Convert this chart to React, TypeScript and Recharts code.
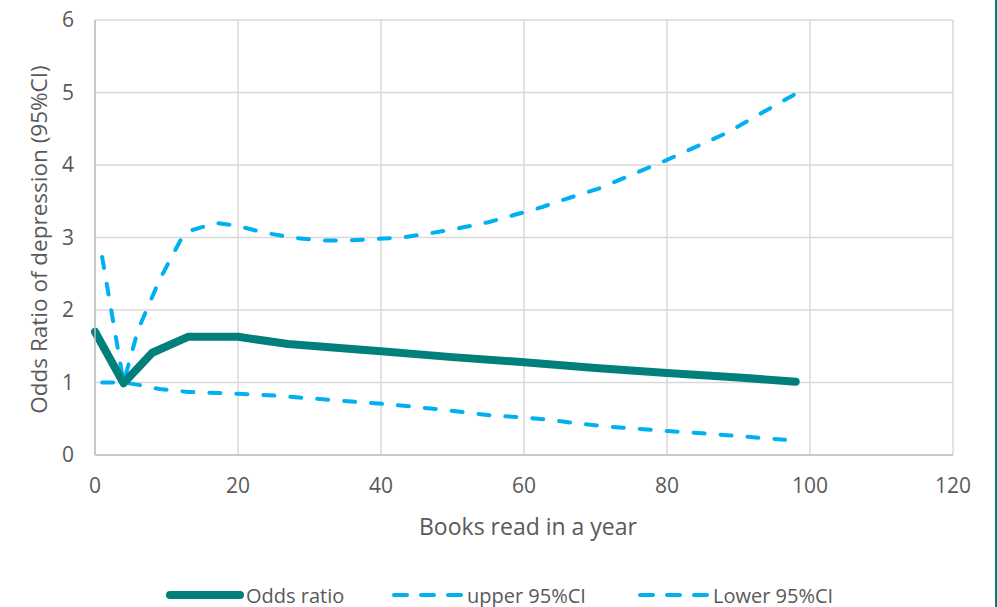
import React from "react";
import { LineChart, Line, XAxis, YAxis, CartesianGrid } from "recharts";

// Odds ratio series
const oddsBooks = [0, 4, 8, 13, 20, 27, 40, 50, 60, 70, 80, 90, 98];
const oddsRatio = [1.7, 0.99, 1.41, 1.63, 1.63, 1.53, 1.43, 1.35, 1.28, 1.2, 1.13, 1.07, 1.01];

// Upper 95% CI series
const upperBooks = [1, 4, 6, 9, 12, 13.5, 17, 20, 23.5, 27.5, 31.5, 35.5, 39.5, 43, 47, 51, 55, 58.6, 62.2, 65.5, 70.6, 80, 88.3, 94, 98.5];
const upperCI = [2.73, 1.0, 1.72, 2.41, 2.97, 3.1, 3.2, 3.16, 3.07, 3.0, 2.96, 2.96, 2.98, 3.0, 3.06, 3.13, 3.21, 3.31, 3.41, 3.52, 3.68, 4.07, 4.44, 4.76, 5.01];

// Lower 95% CI series
const lowerBooks = [1, 4, 6.5, 9, 13, 17.5, 20, 25, 33, 41, 49, 56, 60, 64, 68, 72, 80, 85, 90, 96.5];
const lowerCI = [1.0, 1.0, 0.96, 0.91, 0.87, 0.855, 0.845, 0.82, 0.76, 0.7, 0.62, 0.54, 0.52, 0.48, 0.43, 0.39, 0.33, 0.3, 0.26, 0.21];

const xTicks = [0, 20, 40, 60, 80, 100, 120];
const yTicks = [0, 1, 2, 3, 4, 5, 6];

const seriesNames = ["Odds ratio", "upper 95%CI", "Lower 95%CI"];
const xTitle = "Books read in a year";
const yTitle = "Odds Ratio of depression (95%CI)";

const toData = (xs: number[], ys: number[]) => xs.map((x, i) => ({ x, y: ys[i] }));
const oddsData = toData(oddsBooks, oddsRatio);
const upperData = toData(upperBooks, upperCI);
const lowerData = toData(lowerBooks, lowerCI);

const TEAL = "#007F7B";
const BLUE = "#00B0F0";
const TEXT = "#595959";
const FONT = "'Open Sans', sans-serif";
const DASH = "11 16";

const XTitle = (props: any) => {
  const vb = props.viewBox || {};
  return (
    <text x={vb.x + vb.width / 2 + 4} y={vb.y + 71} textAnchor="middle" dominantBaseline="central" fill={TEXT} fontSize={23} fontFamily={FONT}>
      {xTitle}
    </text>
  );
};

const YTitle = (props: any) => {
  const vb = props.viewBox || {};
  const cx = 38;
  const cy = vb.y + vb.height / 2 + 2;
  return (
    <text x={cx} y={cy} transform={`rotate(-90, ${cx}, ${cy})`} textAnchor="middle" dominantBaseline="central" fill={TEXT} fontSize={22.5} fontFamily={FONT}>
      {yTitle}
    </text>
  );
};

export default function App() {
  return (
    <div style={{ position: "absolute", left: 0, top: 0, width: 997, height: 607, background: "#fff", overflow: "hidden" }}>
      <LineChart width={997} height={607} margin={{ top: 20, right: 44, left: 0, bottom: 62 }}>
        <CartesianGrid stroke="#D9D9D9" strokeWidth={1.5} />
        <XAxis
          type="number"
          dataKey="x"
          domain={[0, 120]}
          ticks={xTicks}
          height={90}
          tickSize={0}
          tickLine={false}
          tickMargin={23}
          axisLine={{ stroke: "#BFBFBF", strokeWidth: 1.5 }}
          tick={{ fill: TEXT, fontSize: 21, fontFamily: FONT }}
          label={<XTitle />}
          allowDuplicatedCategory={false}
        />
        <YAxis
          type="number"
          domain={[0, 6]}
          ticks={yTicks}
          width={95}
          tickSize={0}
          tickLine={false}
          tickMargin={21}
          axisLine={{ stroke: "#BFBFBF", strokeWidth: 1.5 }}
          tick={{ fill: TEXT, fontSize: 21, fontFamily: FONT }}
          label={<YTitle />}
        />
        <Line data={upperData} dataKey="y" name={seriesNames[1]} stroke={BLUE} strokeWidth={4} strokeDasharray={DASH} strokeLinecap="round" dot={false} type="linear" isAnimationActive={false} />
        <Line data={lowerData} dataKey="y" name={seriesNames[2]} stroke={BLUE} strokeWidth={4} strokeDasharray={DASH} strokeLinecap="round" dot={false} type="linear" isAnimationActive={false} />
        <Line data={oddsData} dataKey="y" name={seriesNames[0]} stroke={TEAL} strokeWidth={8} strokeLinecap="round" strokeLinejoin="round" dot={false} type="linear" isAnimationActive={false} />
      </LineChart>
      <svg width={997} height={30} style={{ position: "absolute", left: 0, top: 580 }}>
        <line x1={170} y1={15} x2={240} y2={15} stroke={TEAL} strokeWidth={8} strokeLinecap="round" />
        <text x={246} y={15} dominantBaseline="central" fill={TEXT} fontSize={20} fontFamily={FONT}>{seriesNames[0]}</text>
        <line x1={394} y1={15} x2={462} y2={15} stroke={BLUE} strokeWidth={4} strokeDasharray="13 14" strokeLinecap="round" />
        <text x={467} y={15} dominantBaseline="central" fill={TEXT} fontSize={20} fontFamily={FONT}>{seriesNames[1]}</text>
        <line x1={640} y1={15} x2={708} y2={15} stroke={BLUE} strokeWidth={4} strokeDasharray="13 14" strokeLinecap="round" />
        <text x={713} y={15} dominantBaseline="central" fill={TEXT} fontSize={20} fontFamily={FONT}>{seriesNames[2]}</text>
      </svg>
      <div style={{ position: "absolute", right: 0, top: 0, width: 2, height: 607, background: TEAL }} />
    </div>
  );
}
